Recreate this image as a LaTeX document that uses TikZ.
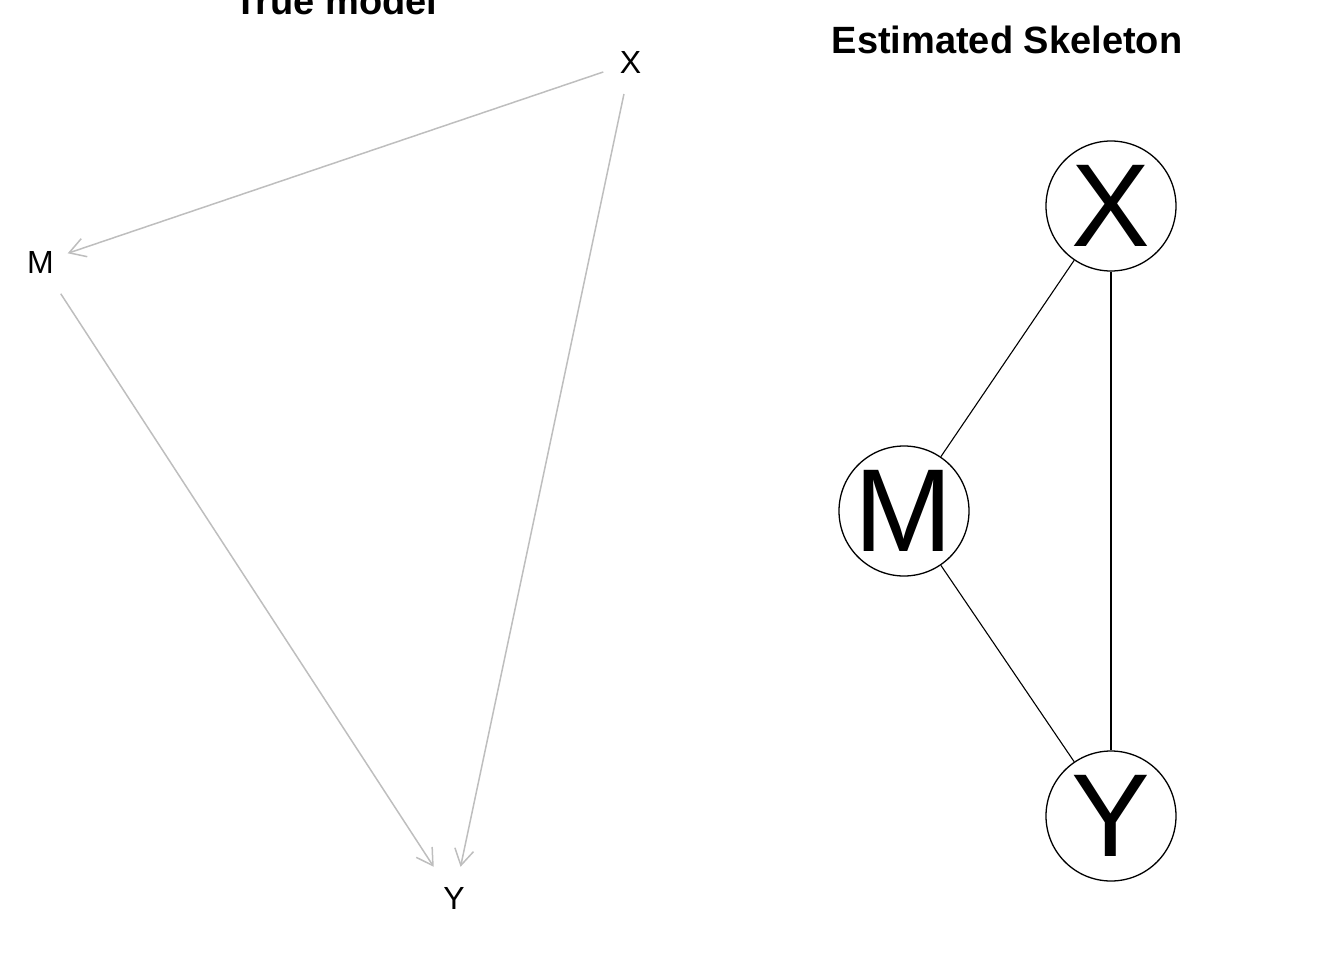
\documentclass[tikz,border=0pt]{standalone}
\usepackage{fontspec}
\setmainfont{Liberation Sans}
\usetikzlibrary{arrows.meta}
\definecolor{edgegray}{RGB}{190,190,190}
\tikzset{
  titletext/.style={font=\fontsize{38}{38}\selectfont\bfseries, anchor=base, inner sep=0pt},
  smalllab/.style={font=\fontsize{32}{32}\selectfont, rectangle, minimum width=54pt, minimum height=62pt, inner sep=0pt},
  grayedge/.style={draw=edgegray, line width=1.5pt, -{Straight Barb[length=16pt,width=19pt,line width=1.5pt]}},
  bignode/.style={draw=black, circle, line width=1.3pt, minimum size=130pt, inner sep=0pt, font=\fontsize{118}{118}\selectfont},
  blackedge/.style={draw=black, line width=1.1pt}
}
\begin{document}
\begin{tikzpicture}[x=1pt,y=-1pt]
\useasboundingbox (0,0) rectangle (1344,960);
% titles
\node[titletext] (t1) at (336,15) {True model};
\node[titletext] (t2) at (1007,54) {Estimated Skeleton};
% left graph
\node[smalllab] (lx) at (630.5,62.8) {X};
\node[smalllab] (lm) at (40.5,262.5) {M};
\node[smalllab] (ly) at (454,898) {Y};
\draw[grayedge] (lx) -- (lm);
\draw[grayedge] (lx) -- (ly);
\draw[grayedge] (lm) -- (ly);
% right graph
\node[bignode] (rx) at (1111,206) {X};
\node[bignode] (rm) at (904,511) {M};
\node[bignode] (ry) at (1111,816) {Y};
\draw[blackedge] (rx) -- (rm);
\draw[blackedge] (rx) -- (ry);
\draw[blackedge] (rm) -- (ry);
\end{tikzpicture}
\end{document}
